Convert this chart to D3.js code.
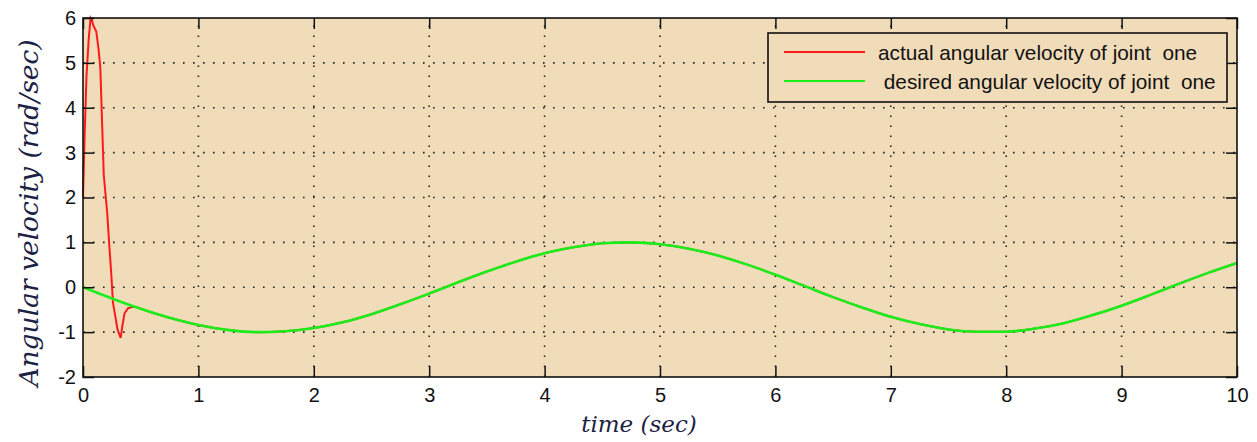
<!DOCTYPE html>
<html>
<head>
<meta charset="utf-8">
<script src="https://cdn.jsdelivr.net/npm/d3@7"></script>
<style>
  html, body { margin: 0; padding: 0; background: #ffffff; }
  svg { display: block; }
</style>
</head>
<body>
<svg id="chart" width="1257" height="442"></svg>
<script>
// Time samples and angular velocities (rad/sec)
const desiredTime = [0, 0.25, 0.5, 0.75, 1, 1.25, 1.5, 1.75, 2, 2.25, 2.5, 2.75, 3, 3.25, 3.5, 3.75,
  4, 4.25, 4.5, 4.75, 5, 5.25, 5.5, 5.75, 6, 6.25, 6.5, 6.75, 7, 7.25, 7.5, 7.75,
  8, 8.25, 8.5, 8.75, 9, 9.25, 9.5, 9.75, 10];
const desiredVelocity = [0, -0.25, -0.48, -0.68, -0.84, -0.95, -1.00, -0.98, -0.91, -0.78, -0.60, -0.38,
  -0.14, 0.11, 0.35, 0.57, 0.76, 0.89, 0.98, 1.00, 0.96, 0.86, 0.71, 0.51, 0.28, 0.03,
  -0.22, -0.45, -0.66, -0.82, -0.94, -0.99, -0.99, -0.92, -0.80, -0.62, -0.41, -0.17,
  0.08, 0.32, 0.54];

// Transient of the actual joint velocity before it settles onto the desired path
const actualTime = [0, 0.015, 0.03, 0.05, 0.066, 0.078, 0.087, 0.115, 0.135, 0.15, 0.165, 0.18,
  0.21, 0.23, 0.245, 0.26, 0.28, 0.30, 0.327, 0.34, 0.36, 0.39, 0.42, 0.46];
const actualVelocity = [2.0, 3.45, 4.7, 5.55, 6.0, 5.95, 5.85, 5.7, 5.3, 4.9, 3.7, 2.5,
  1.65, 0.85, 0.3, -0.35, -0.65, -0.95, -1.13, -0.88, -0.58, -0.47, -0.44, -0.44];

const xTicks = [0, 1, 2, 3, 4, 5, 6, 7, 8, 9, 10];
const yTicks = [-2, -1, 0, 1, 2, 3, 4, 5, 6];
const seriesNames = ["actual angular velocity of joint  one", " desired angular velocity of joint  one"];
const seriesColors = ["#ff1a1a", "#1aee1a"];

const svg = d3.select("#chart");
const plotLeft = 83, plotRight = 1237, plotTop = 18, plotBottom = 377;

const x = d3.scaleLinear().domain([0, 10]).range([plotLeft, plotRight]);
const y = d3.scaleLinear().domain([-2, 6]).range([plotBottom, plotTop]);

const bg = "#f1dcba";
svg.append("rect").attr("x", plotLeft).attr("y", plotTop)
  .attr("width", plotRight - plotLeft).attr("height", plotBottom - plotTop).attr("fill", bg);

// Dotted grid
const grid = svg.append("g").attr("stroke", "#222").attr("stroke-width", 1.6)
  .attr("stroke-dasharray", "1.6,8.4");
grid.selectAll("line.v").data(xTicks.slice(1, -1)).join("line").attr("class", "v")
  .attr("x1", d => x(d)).attr("x2", d => x(d)).attr("y1", plotBottom).attr("y2", plotTop);
grid.selectAll("line.h").data(yTicks.slice(1, -1)).join("line").attr("class", "h")
  .attr("y1", d => y(d)).attr("y2", d => y(d)).attr("x1", plotLeft).attr("x2", plotRight);

// Lines: actual path continues on the desired one after the transient
const lastT = actualTime[actualTime.length - 1];
const actualPts = actualTime.map((t, i) => [t, actualVelocity[i]])
  .concat(desiredTime.map((t, i) => [t, desiredVelocity[i]]).filter(p => p[0] > lastT));
const desiredPts = desiredTime.map((t, i) => [t, desiredVelocity[i]]);

const lineLinear = d3.line().x(d => x(d[0])).y(d => y(d[1]));
const lineSmooth = d3.line().x(d => x(d[0])).y(d => y(d[1])).curve(d3.curveMonotoneX);

svg.append("path").datum(actualPts.filter(p => p[0] <= lastT))
  .attr("d", lineLinear).attr("fill", "none")
  .attr("stroke", seriesColors[0]).attr("stroke-width", 2);
svg.append("path").datum(actualPts.filter(p => p[0] >= lastT))
  .attr("d", lineSmooth).attr("fill", "none")
  .attr("stroke", seriesColors[0]).attr("stroke-width", 2);
svg.append("path").datum(desiredPts)
  .attr("d", lineSmooth).attr("fill", "none")
  .attr("stroke", seriesColors[1]).attr("stroke-width", 2.6);

// Axes with inward ticks on all four sides
const tickLen = 11;
const plainNum = d => String(d);
const xAxisB = d3.axisBottom(x).tickValues(xTicks).tickFormat(plainNum)
  .tickSizeInner(-tickLen).tickSizeOuter(0).tickPadding(11);
const xAxisT = d3.axisTop(x).tickValues(xTicks).tickSizeInner(-tickLen).tickSizeOuter(0).tickFormat("");
const yAxisL = d3.axisLeft(y).tickValues(yTicks).tickFormat(plainNum)
  .tickSizeInner(-tickLen).tickSizeOuter(0).tickPadding(7);
const yAxisR = d3.axisRight(y).tickValues(yTicks).tickSizeInner(-tickLen).tickSizeOuter(0).tickFormat("");

function styleAxis(g) {
  g.select(".domain").remove();
  g.selectAll(".tick line").attr("stroke", "#111").attr("stroke-width", 1.5);
  g.selectAll(".tick text").attr("fill", "#111")
    .style("font-family", "'Liberation Sans', Arial, sans-serif").style("font-size", "20px");
}
svg.append("g").attr("transform", `translate(0,${plotBottom})`).call(xAxisB).call(styleAxis);
svg.append("g").attr("transform", `translate(0,${plotTop})`).call(xAxisT).call(styleAxis);
svg.append("g").attr("transform", `translate(${plotLeft},0)`).call(yAxisL).call(styleAxis);
svg.append("g").attr("transform", `translate(${plotRight},0)`).call(yAxisR).call(styleAxis);

// Frame
svg.append("rect").attr("x", plotLeft).attr("y", plotTop)
  .attr("width", plotRight - plotLeft).attr("height", plotBottom - plotTop)
  .attr("fill", "none").attr("stroke", "#111").attr("stroke-width", 1.6);

// Legend
const lg = svg.append("g");
lg.append("rect").attr("x", 768).attr("y", 33).attr("width", 459).attr("height", 69)
  .attr("fill", bg).attr("stroke", "#111").attr("stroke-width", 1.6);
seriesNames.forEach((name, i) => {
  const yy = 52 + i * 29;
  lg.append("line").attr("x1", 784).attr("x2", 865).attr("y1", yy).attr("y2", yy)
    .attr("stroke", seriesColors[i]).attr("stroke-width", 2);
  lg.append("text").attr("x", 878).attr("y", yy + 8).text(name)
    .style("white-space", "pre")
    .style("font-family", "'Liberation Sans', Arial, sans-serif").style("font-size", "20.8px")
    .attr("fill", "#111");
});

// Axis titles
const titleColor = "#1c2244";
svg.append("text").attr("x", 639).attr("y", 432).attr("text-anchor", "middle")
  .style("font-family", "'DejaVu Serif', 'Liberation Serif', serif").style("font-style", "italic")
  .style("font-size", "23px").attr("fill", titleColor).text("time (sec)");
svg.append("text").attr("transform", "translate(38,213) rotate(-90)").attr("text-anchor", "middle")
  .style("font-family", "'DejaVu Serif', 'Liberation Serif', serif").style("font-style", "italic")
  .style("font-size", "26.5px").attr("fill", titleColor).text("Angular velocity (rad/sec)");
</script>
</body>
</html>
